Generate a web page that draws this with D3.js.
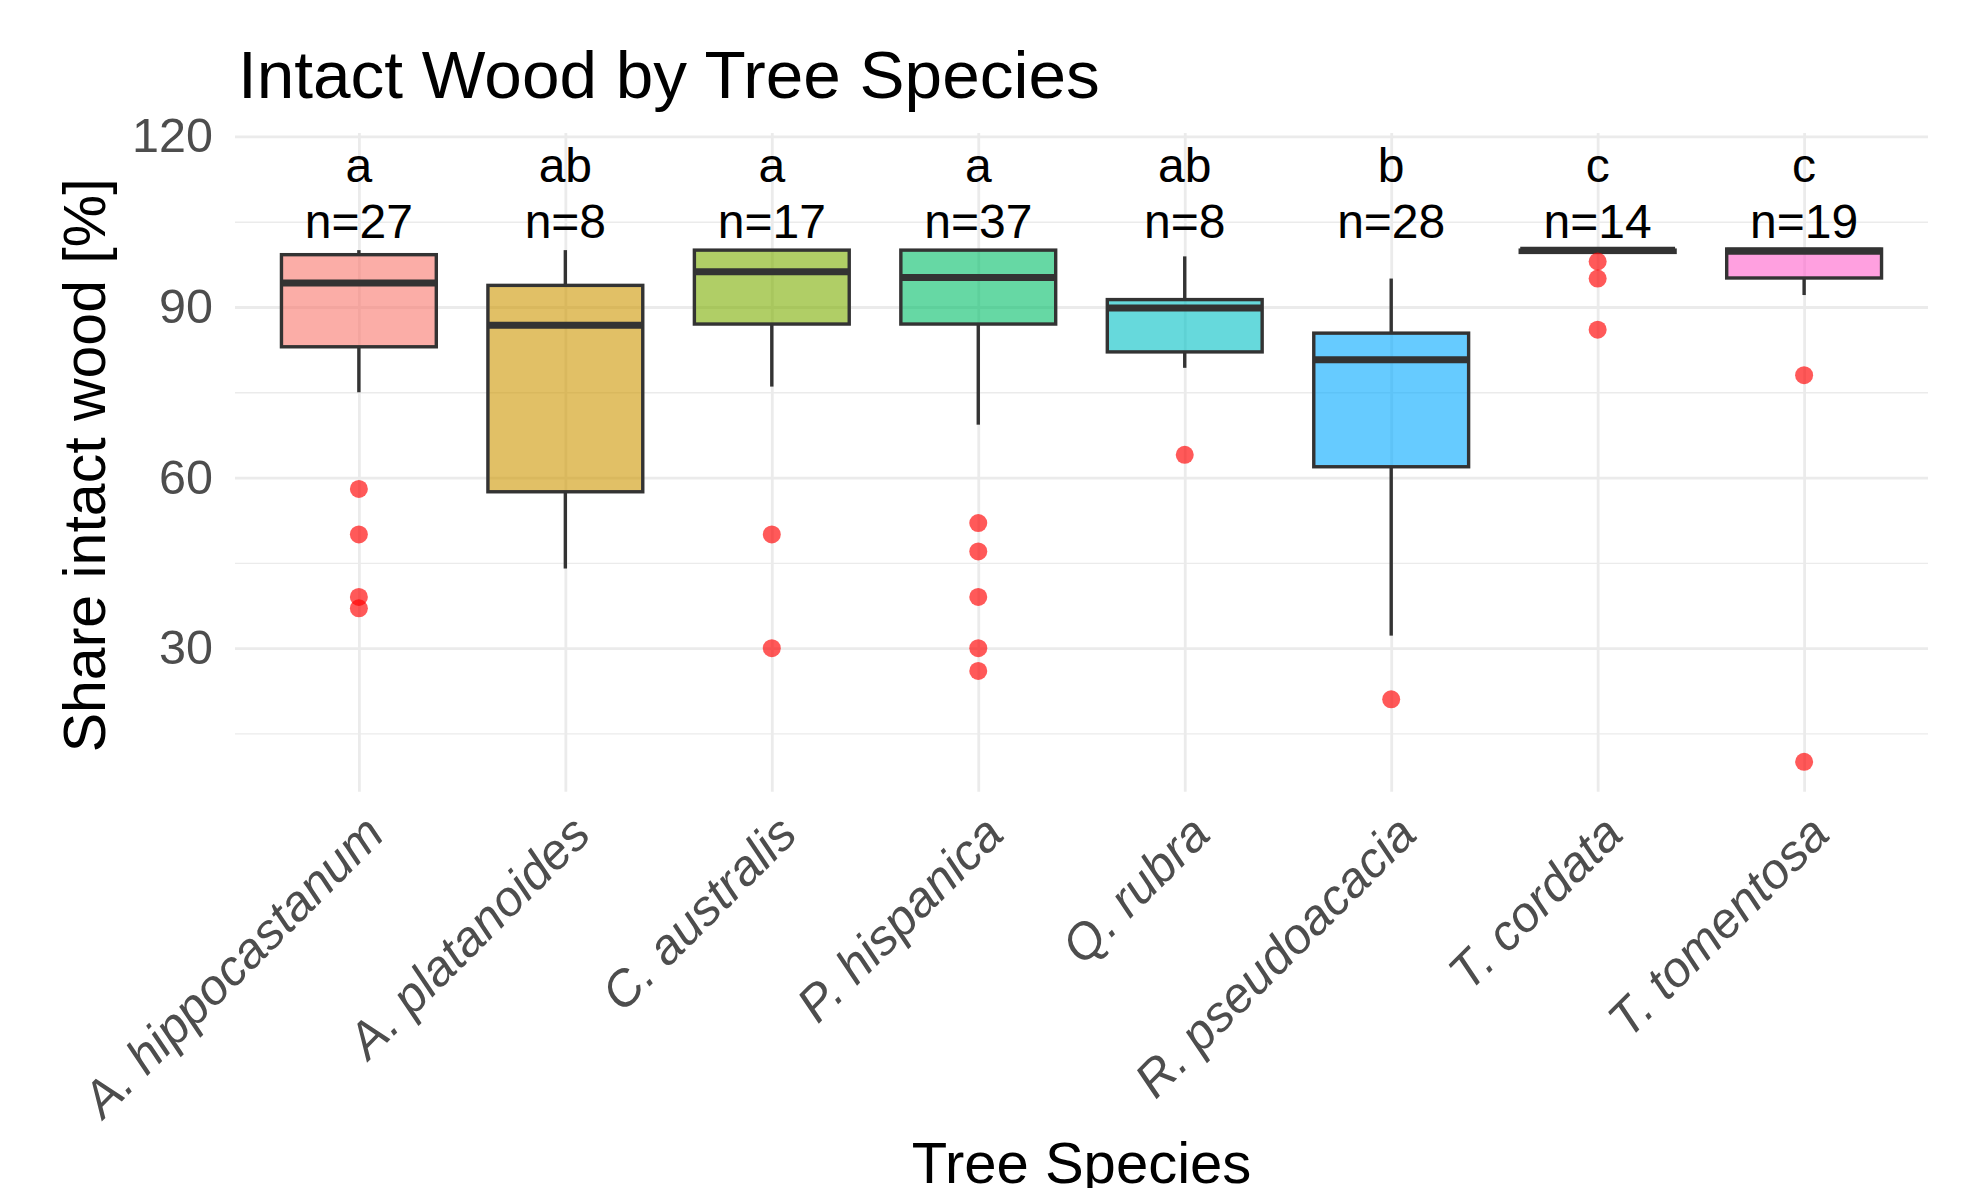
<!DOCTYPE html>
<html>
<head>
<meta charset="utf-8">
<script src="https://cdn.jsdelivr.net/npm/d3@7"></script>
<style>
  html, body { margin: 0; padding: 0; background: #fff; }
  svg { display: block; font-family: "Liberation Sans", Arial, Helvetica, sans-serif; }
</style>
</head>
<body>
<svg id="chart" width="1966" height="1188"></svg>
<script>
// ---- Data ----
const species = ["A. hippocastanum", "A. platanoides", "C. australis", "P. hispanica",
                 "Q. rubra", "R. pseudoacacia", "T. cordata", "T. tomentosa"];
const whiskerLow  = [75.0, 44.0, 76.0, 69.3, 79.3, 32.2, 99.6, 92.1];
const q1          = [83.0, 57.5, 87.0, 87.0, 82.1, 61.9, 99.6, 95.1];
const medians     = [94.2, 86.8, 96.2, 95.2, 89.8, 80.7, 100.0, 99.8];
const q3          = [99.2, 93.8, 100.0, 100.0, 91.3, 85.4, 100.0, 100.2];
const whiskerHigh = [100.0, 100.0, 100.0, 100.0, 98.9, 95.0, 100.0, 100.2];
const outliers    = [[58, 50, 39, 37], [], [50, 30], [52, 47, 39, 30, 26],
                     [64], [21], [98, 95, 86], [78, 10]];
const groupLetters = ["a", "ab", "a", "a", "ab", "b", "c", "c"];
const nCounts      = [27, 8, 17, 37, 8, 28, 14, 19];
const fillColors   = ["#F8766D", "#CD9600", "#7CAE00", "#00BE67", "#00BFC4", "#00A9FF", "#C77CFF", "#FF61CC"];
const yMajorTicks  = [30, 60, 90, 120];
const yMinorTicks  = [15, 45, 75, 105];
const letterY = 115;
const countY  = 105;

// ---- Layout ----
const svg = d3.select("#chart");
const panel = { left: 235, right: 1928, top: 133, bottom: 791.7 };

const x = d3.scalePoint().domain(species).range([panel.left, panel.right]).padding(0.6);
const y = d3.scaleLinear().domain([4.75, 120.6]).range([panel.bottom, panel.top]);
const boxW = x.step() * 0.75;

const stats = species.map((s, i) => ({
  s, lo: whiskerLow[i], q1: q1[i], med: medians[i], q3: q3[i], hi: whiskerHigh[i],
  out: outliers[i], letter: groupLetters[i], n: nCounts[i], color: fillColors[i]
}));

// ---- Grid ----
const grid = svg.append("g");
grid.append("g")
  .attr("transform", `translate(${panel.left},0)`)
  .call(d3.axisLeft(y).tickValues(yMinorTicks).tickSize(-(panel.right - panel.left)).tickFormat(""))
  .call(g => g.select(".domain").remove())
  .call(g => g.selectAll("line").attr("stroke", "#EBEBEB").attr("stroke-width", 1.4));
grid.append("g")
  .attr("transform", `translate(${panel.left},0)`)
  .call(d3.axisLeft(y).tickValues(yMajorTicks).tickSize(-(panel.right - panel.left)).tickFormat(""))
  .call(g => g.select(".domain").remove())
  .call(g => g.selectAll("line").attr("stroke", "#EBEBEB").attr("stroke-width", 2.8));
grid.append("g")
  .attr("transform", `translate(0,${panel.bottom})`)
  .call(d3.axisBottom(x).tickSize(-(panel.bottom - panel.top)).tickFormat(""))
  .call(g => g.select(".domain").remove())
  .call(g => g.selectAll("line").attr("stroke", "#EBEBEB").attr("stroke-width", 2.8));

// ---- Boxplots ----
const boxes = svg.append("g").selectAll("g").data(stats).join("g");
const stroke = "#333333";
// whiskers
boxes.append("line")
  .attr("x1", d => x(d.s)).attr("x2", d => x(d.s))
  .attr("y1", d => y(d.q3)).attr("y2", d => y(d.hi))
  .attr("stroke", stroke).attr("stroke-width", 3.4);
boxes.append("line")
  .attr("x1", d => x(d.s)).attr("x2", d => x(d.s))
  .attr("y1", d => y(d.q1)).attr("y2", d => y(d.lo))
  .attr("stroke", stroke).attr("stroke-width", 3.4);
// box
boxes.append("rect")
  .attr("x", d => x(d.s) - boxW / 2)
  .attr("width", boxW)
  .attr("y", d => y(d.q3))
  .attr("height", d => Math.max(0, y(d.q1) - y(d.q3)))
  .attr("fill", d => d.color).attr("fill-opacity", 0.6)
  .attr("stroke", stroke).attr("stroke-width", 3.4);
// median
boxes.append("line")
  .attr("x1", d => x(d.s) - boxW / 2).attr("x2", d => x(d.s) + boxW / 2)
  .attr("y1", d => y(d.med)).attr("y2", d => y(d.med))
  .attr("stroke", stroke).attr("stroke-width", 7);
// outliers
boxes.selectAll("circle")
  .data(d => d.out.map(v => ({ s: d.s, v })))
  .join("circle")
  .attr("cx", d => x(d.s)).attr("cy", d => y(d.v)).attr("r", 9)
  .attr("fill", "#FF0000").attr("fill-opacity", 0.65);

// ---- Labels above boxes ----
const labels = svg.append("g").attr("font-size", 48).attr("fill", "#000").attr("text-anchor", "middle");
labels.selectAll("text.letter").data(stats).join("text")
  .attr("class", "letter")
  .attr("x", d => x(d.s)).attr("y", y(letterY)).attr("dy", "0.35em")
  .text(d => d.letter);
labels.selectAll("text.count").data(stats).join("text")
  .attr("class", "count")
  .attr("x", d => x(d.s)).attr("y", y(countY)).attr("dy", "0.35em")
  .text(d => "n=" + d.n);

// ---- Axes ----
svg.append("g")
  .attr("transform", `translate(${panel.left},0)`)
  .call(d3.axisLeft(y).tickValues(yMajorTicks).tickSize(0).tickPadding(22))
  .call(g => g.select(".domain").remove())
  .call(g => g.selectAll("text").attr("font-size", 48.5).attr("fill", "#4D4D4D")
        .attr("font-family", "'Liberation Sans', Arial, sans-serif"));

svg.append("g")
  .attr("transform", `translate(0,${panel.bottom})`)
  .call(d3.axisBottom(x).tickSize(0).tickPadding(0))
  .call(g => g.select(".domain").remove())
  .call(g => g.selectAll("text")
        .attr("font-size", 50).attr("fill", "#4D4D4D").attr("font-style", "italic")
        .attr("font-family", "'Liberation Sans', Arial, sans-serif")
        .attr("text-anchor", "end")
        .attr("x", 0).attr("y", 0).attr("dy", "0.71em")
        .attr("transform", "translate(2,20) rotate(-45)"));

// ---- Titles ----
svg.append("text")
  .attr("x", 238).attr("y", 98)
  .attr("font-size", 67.5).attr("fill", "#000")
  .text("Intact Wood by Tree Species");

svg.append("text")
  .attr("transform", `translate(105,${(panel.top + panel.bottom) / 2 + 3}) rotate(-90)`)
  .attr("text-anchor", "middle")
  .attr("font-size", 59).attr("fill", "#000")
  .text("Share intact wood [%]");

svg.append("text")
  .attr("x", (panel.left + panel.right) / 2).attr("y", 1183)
  .attr("text-anchor", "middle")
  .attr("font-size", 58).attr("fill", "#000")
  .text("Tree Species");
</script>
</body>
</html>
